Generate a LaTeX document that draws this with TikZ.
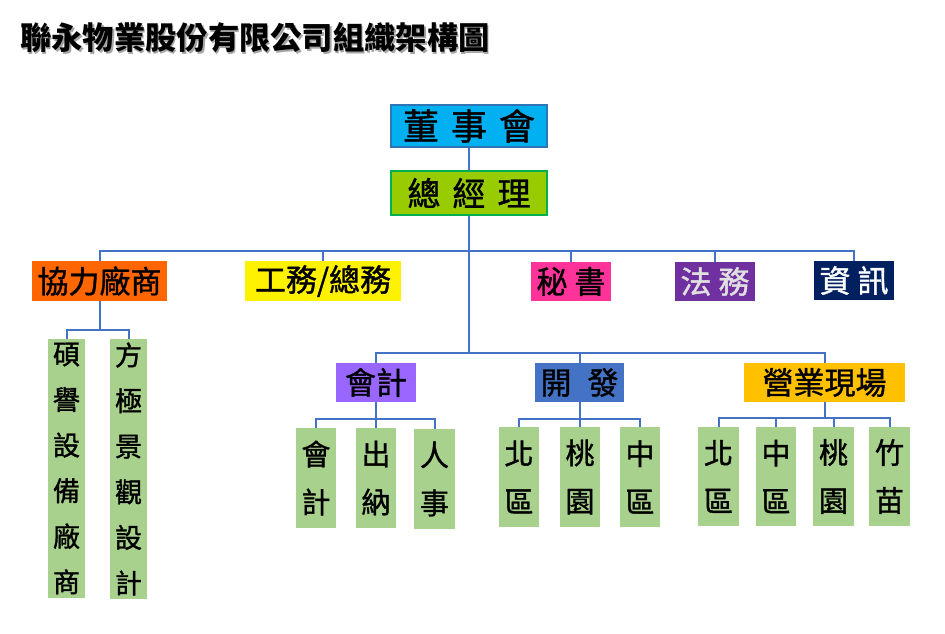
\documentclass[tikz,border=0pt]{standalone}
\usepackage{fontspec}
\setmainfont{Noto Sans CJK TC}
\newfontfamily\medfont[FakeBold=1.2]{Noto Sans CJK TC}
\definecolor{linkblue}{RGB}{68,114,196}
\definecolor{leafgreen}{RGB}{169,209,142}

\begin{document}
\begin{tikzpicture}[x=1pt,y=1pt,yscale=-1,xscale=1,
  box/.style={rectangle,inner sep=0pt,align=center,font=\medfont\fontsize{31}{31}\selectfont},
  leaf/.style={rectangle,inner sep=0pt,align=center,fill=leafgreen,font=\medfont\fontsize{29}{48}\selectfont},
  link/.style={draw=linkblue,line width=2pt},
  title/.style={anchor=west,inner sep=0pt,font=\bfseries\fontsize{31.3}{31.3}\selectfont}]
\useasboundingbox (0,0) rectangle (945,634);

% Title
\node [title,text=black!35] at (21.5,39.5) {聯永物業股份有限公司組織架構圖};
\node [title] (title) at (20,38) {聯永物業股份有限公司組織架構圖};

% Top
\node [box,fill={rgb,255:red,0;green,176;blue,240},draw={rgb,255:red,46;green,117;blue,182},line width=1.5pt,minimum width=156,minimum height=42,font=\medfont\fontsize{36}{36}\selectfont] (board) at (469,126) {董\hspace{12pt}事\hspace{12pt}會};
\node [box,fill={rgb,255:red,153;green,204;blue,0},draw={rgb,255:red,0;green,176;blue,80},line width=1.5pt,minimum width=156,minimum height=44,font=\medfont\fontsize{33}{33}\selectfont] (gm) at (469,193) {總\hspace{12pt}經\hspace{12pt}理};

% First level
\node [box,fill={rgb,255:red,255;green,102;blue,0},minimum width=135,minimum height=40] (coop) at (99.5,281) {協力廠商};
\node [box,fill=yellow,minimum width=156,minimum height=40] (works) at (323,281) {工務/總務};
\node [box,fill={rgb,255:red,255;green,51;blue,153},minimum width=80,minimum height=39] (sec) at (571,281.5) {秘\hspace{7pt}書};
\node [box,fill={rgb,255:red,112;green,48;blue,160},text=black!12,minimum width=80,minimum height=39] (legal) at (715,281.5) {法\hspace{7pt}務};
\node [box,fill={rgb,255:red,0;green,32;blue,96},text=white,minimum width=80,minimum height=39] (info) at (854,280.5) {資\hspace{7pt}訊};

% Second level
\node [box,fill={rgb,255:red,153;green,102;blue,255},minimum width=80,minimum height=39] (acct) at (376,382.5) {會計};
\node [box,fill={rgb,255:red,68;green,114;blue,196},minimum width=89,minimum height=39] (dev) at (579.5,382.5) {開\hspace{16pt}發};
\node [box,fill={rgb,255:red,255;green,192;blue,0},minimum width=161,minimum height=39] (site) at (824.5,382.5) {營業現場};

% Leaves
\node [leaf,minimum width=37,minimum height=259,font=\medfont\fontsize{27}{45.6}\selectfont] (sy) at (66.5,468.5) {碩\\譽\\設\\備\\廠\\商};
\node [leaf,minimum width=37,minimum height=260,font=\medfont\fontsize{27}{45.6}\selectfont] (fj) at (128.5,469) {方\\極\\景\\觀\\設\\計};
\node [leaf,minimum width=40,minimum height=100] (a1) at (316,478) {會\\計};
\node [leaf,minimum width=40,minimum height=100] (a2) at (376,478) {出\\納};
\node [leaf,minimum width=41,minimum height=100] (a3) at (434.5,479) {人\\事};
\node [leaf,minimum width=40,minimum height=100] (d1) at (519,477) {北\\區};
\node [leaf,minimum width=40,minimum height=100] (d2) at (580,477) {桃\\園};
\node [leaf,minimum width=40,minimum height=100] (d3) at (640,477) {中\\區};
\node [leaf,minimum width=41,minimum height=99] (s1) at (718.5,476.5) {北\\區};
\node [leaf,minimum width=40,minimum height=99] (s2) at (776,476.5) {中\\區};
\node [leaf,minimum width=41,minimum height=99] (s3) at (833.5,476.5) {桃\\園};
\node [leaf,minimum width=41,minimum height=99] (s4) at (889.5,476.5) {竹\\苗};

% Bars
\coordinate (topbar) at (469,251);
\coordinate (midbar) at (469,353);
\coordinate (coopbar) at (99.5,330);
\coordinate (acctbar) at (376,419);
\coordinate (devbar) at (579.5,419);
\coordinate (sitebar) at (824.5,418);

% Connectors
\draw [link] (board) -- (gm);
\draw [link] (gm.south) -- (midbar);
\foreach \n in {coop,works,sec,legal,info}
  \draw [link] (\n.north) |- (topbar);
\foreach \n in {acct,dev,site}
  \draw [link] (\n.north) |- (midbar);
\draw [link] (coop.south) -- (coopbar);
\foreach \n in {sy,fj}
  \draw [link] (\n.north) |- (coopbar);
\draw [link] (acct.south) -- (acctbar);
\foreach \n in {a1,a2,a3}
  \draw [link] (\n.north) |- (acctbar);
\draw [link] (dev.south) -- (devbar);
\foreach \n in {d1,d2,d3}
  \draw [link] (\n.north) |- (devbar);
\draw [link] (site.south) -- (sitebar);
\foreach \n in {s1,s2,s3,s4}
  \draw [link] (\n.north) |- (sitebar);

\end{tikzpicture}
\end{document}
